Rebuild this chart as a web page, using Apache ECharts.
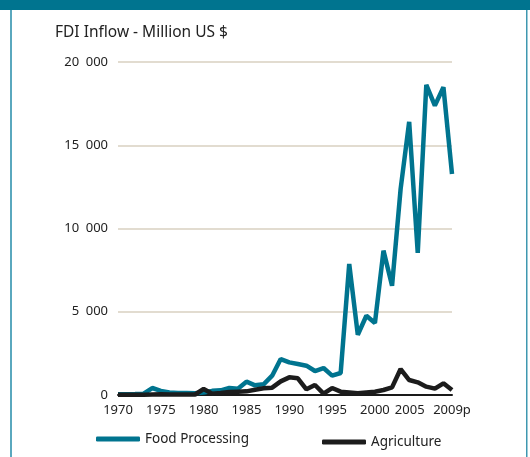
<!DOCTYPE html>
<html>
<head>
<meta charset="utf-8">
<script src="https://cdn.jsdelivr.net/npm/echarts@6/dist/echarts.min.js"></script>
<style>
html,body{margin:0;padding:0;background:#fff;}
#c{width:530px;height:457px;}
</style>
</head>
<body>
<div id="c"></div>
<script>
const years = [1970,1971,1972,1973,1974,1975,1976,1977,1978,1979,1980,1981,1982,1983,1984,1985,1986,1987,1988,1989,1990,1991,1992,1993,1994,1995,1996,1997,1998,1999,2000,2001,2002,2003,2004,2005,2006,2007,2008,2009];
const foodProcessing = [50,50,60,80,420,250,150,120,120,100,150,250,280,420,380,800,580,640,1160,2160,1960,1860,1760,1440,1620,1160,1320,7870,3620,4760,4320,8670,6560,12370,16410,8530,18620,17380,18480,13270];
const agriculture = [20,20,20,20,30,40,30,30,30,30,360,80,120,180,200,220,320,400,440,820,1060,1000,340,600,80,420,200,150,100,150,200,300,460,1560,900,760,500,380,700,300];
const xTickYears = [1970,1975,1980,1985,1990,1995,2000,2005,2009];
const xTickText = ['1970','1975','1980','1985','1990','1995','2000','2005','2009p'];
const yTickValues = [0,5000,10000,15000,20000];
const yTickText = ['0','5\u2002000','10\u2002000','15\u2002000','20\u2002000'];
const seriesNames = ['Food Processing','Agriculture'];
const title = 'FDI Inflow - Million US $';

const TEAL = '#00748f';
const FONT = '"Noto Sans", "Open Sans", sans-serif';
const chart = echarts.init(document.getElementById('c'), null, {renderer:'canvas'});
chart.setOption({
  animation:false,
  backgroundColor:'#fff',
  title:{text:title,left:50,top:20,textStyle:{fontFamily:FONT,fontSize:15.5,fontWeight:'normal',color:'#222'}},
  graphic:[
    {type:'rect',shape:{x:0,y:0,width:530,height:10},style:{fill:TEAL},silent:true},
    {type:'rect',shape:{x:10,y:10,width:2,height:447},style:{fill:'#5aa8be'},silent:true},
    {type:'rect',shape:{x:526,y:10,width:1.5,height:447},style:{fill:'#3f97b0'},silent:true}
  ],
  legend:[
    {data:[seriesNames[0]],left:91,top:427,itemWidth:44,itemHeight:5,itemGap:7,icon:'roundRect',
     textStyle:{fontFamily:FONT,fontSize:13.5,color:'#222'}},
    {data:[seriesNames[1]],left:317,top:430,itemWidth:44,itemHeight:5,icon:'roundRect',
     textStyle:{fontFamily:FONT,fontSize:13.5,color:'#222'}}
  ],
  grid:{left:118,right:78,top:62,bottom:62},
  xAxis:{type:'category',data:years,boundaryGap:false,
    axisLine:{show:true,onZero:true,lineStyle:{color:'#1a1a1a',width:2}},
    axisTick:{show:false},
    splitLine:{show:false},
    axisLabel:{margin:9,fontFamily:FONT,fontSize:13,color:'#222',
      interval:function(i,v){return xTickYears.indexOf(Number(v))>=0;},
      formatter:function(v){const k=xTickYears.indexOf(Number(v));const t=xTickText[k];return Number(v)===2005?'{s|'+t+'}':t;},
      rich:{s:{padding:[0,16,0,0],fontFamily:FONT,fontSize:13,color:'#222'}}}
  },
  yAxis:{type:'value',min:0,max:20000,interval:5000,
    axisLine:{show:false},axisTick:{show:false},
    splitLine:{lineStyle:{color:'#d9d0c1',width:1.5}},
    axisLabel:{margin:10,fontFamily:FONT,fontSize:13,color:'#222',
      formatter:function(v){const k=yTickValues.indexOf(v);return k>=0?yTickText[k]:'';}}
  },
  series:[
    {name:seriesNames[0],type:'line',data:foodProcessing,showSymbol:false,symbol:'none',
     lineStyle:{color:TEAL,width:4.5},itemStyle:{color:TEAL},z:2},
    {name:seriesNames[1],type:'line',data:agriculture,showSymbol:false,symbol:'none',
     lineStyle:{color:'#1c1c1c',width:4.5},itemStyle:{color:'#1c1c1c'},z:3}
  ]
});
</script>
</body>
</html>
